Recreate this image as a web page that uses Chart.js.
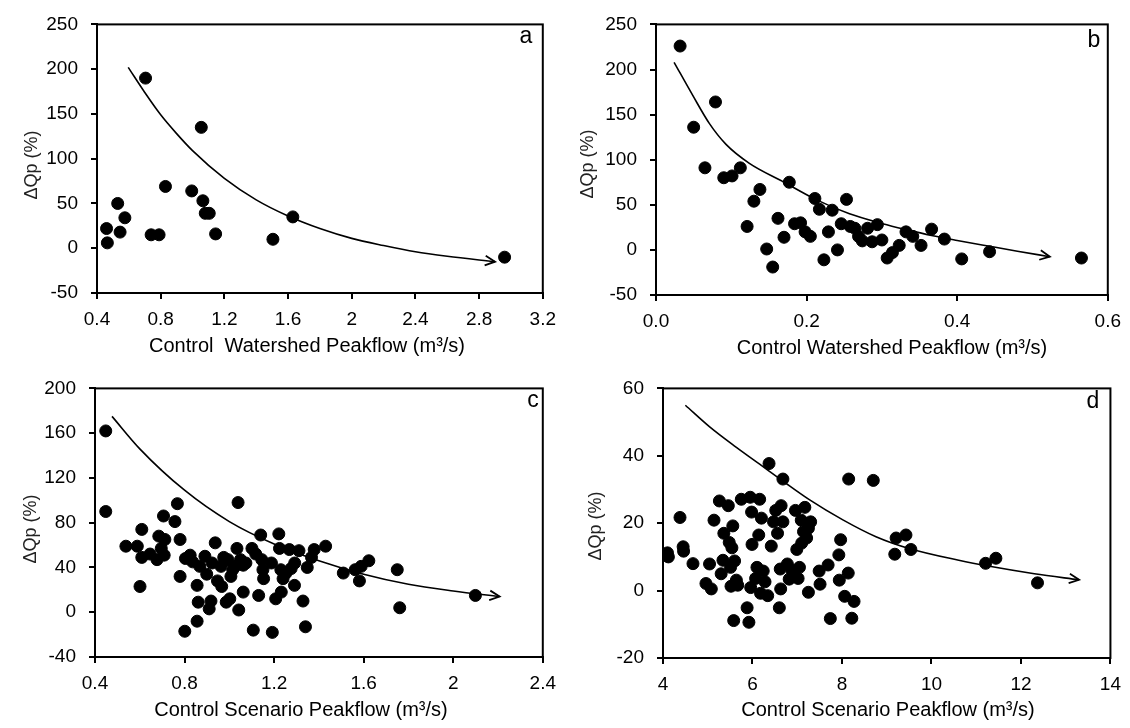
<!DOCTYPE html>
<html lang="en">
<head>
  <meta charset="UTF-8" />
  <title>Peakflow change vs control peakflow</title>
  <script src="https://cdn.jsdelivr.net/npm/chart.js"></script>
  <style>
    body {
      margin: 0;
      background: #fff;
    }

    #wrap {
      position: relative;
      width: 1130px;
      height: 728px;
      overflow: hidden;
      background: #fff;
    }

    canvas {
      position: absolute;
    }
  </style>
</head>
<body>

  <div id="wrap">
    <canvas id="chartA" width="565" height="372" style="left:0;top:0"></canvas>
    <canvas id="chartB" width="565" height="372" style="left:565px;top:0"></canvas>
    <canvas id="chartC" width="565" height="364" style="left:0;top:364px"></canvas>
    <canvas id="chartD" width="565" height="364" style="left:565px;top:364px"></canvas>
  </div>

  <script>
    const FONT = '"Liberation Sans", Arial, Helvetica, sans-serif';

    // panel a - control watershed
    const aPeak = [0.46, 0.465, 0.53, 0.545, 0.575, 0.705, 0.74, 0.79, 0.83, 0.995, 1.055, 1.065, 1.08, 1.105, 1.145, 1.505, 1.63, 2.96];
    const aDelta = [22, 6, 50, 18, 34, 190, 15, 15, 69, 64, 135, 53, 39, 39, 16, 10, 35, -10];
    const aCurvePeak = [0.596, 0.7, 0.8, 0.9, 1.0, 1.2, 1.4, 1.6, 1.8, 2.0, 2.2, 2.4, 2.6, 2.9];
    const aCurveDelta = [202, 174, 149, 128, 109, 78, 54, 36, 22, 11, 3, -4, -9, -15];
    const aXTicks = [0.4, 0.8, 1.2, 1.6, 2, 2.4, 2.8, 3.2];
    const aYTicks = [-50, 0, 50, 100, 150, 200, 250];

    // panel b - control watershed
    const bPeak = [0.032, 0.050, 0.065, 0.079, 0.090, 0.101, 0.112, 0.121, 0.130, 0.138,
                   0.147, 0.155, 0.162, 0.170, 0.177, 0.184, 0.192, 0.198, 0.205, 0.211,
                   0.217, 0.223, 0.229, 0.234, 0.241, 0.246, 0.253, 0.258, 0.264, 0.269,
                   0.274, 0.281, 0.287, 0.294, 0.300, 0.307, 0.314, 0.323, 0.332, 0.341,
                   0.352, 0.366, 0.383, 0.406, 0.443, 0.565];
    const bDelta = [226, 136, 91, 164, 80, 82, 91, 26, 54, 67,
                    1, -19, 35, 14, 75, 29, 30, 20, 15, 57,
                    45, -11, 20, 44, 0, 29, 56, 26, 24, 15,
                    10, 24, 9, 28, 11, -9, -3, 5, 20, 15,
                    5, 23, 12, -10, -2, -9];
    const bCurvePeak = [0.024, 0.049, 0.071, 0.093, 0.124, 0.168, 0.212, 0.257, 0.301, 0.332, 0.366, 0.4, 0.443, 0.48, 0.523];
    const bCurveDelta = [208, 171, 140, 117, 96, 76, 56, 40, 29, 22.5, 16, 10.5, 4, -1.5, -7.5];
    const bXTicks = [0.0, 0.2, 0.4, 0.6];
    const bYTicks = [-50, 0, 50, 100, 150, 200, 250];

    // panel c - control scenario
    const cPeak = [0.448, 0.448, 0.538, 0.589, 0.609, 0.601, 0.609, 0.646, 0.677, 0.685,
                   0.706, 0.712, 0.709, 0.696, 0.757, 0.768, 0.780, 0.780, 0.801, 0.804,
                   0.825, 0.836, 0.856, 0.856, 0.861, 0.868, 0.891, 0.899, 0.910, 0.918,
                   0.923, 0.937, 0.947, 0.963, 0.966, 0.975, 0.986, 0.994, 1.002, 1.007,
                   1.015, 1.026, 1.034, 1.039, 1.042, 1.050, 1.062, 1.062, 1.074, 1.101,
                   1.107, 1.118, 1.131, 1.140, 1.145, 1.150, 1.153, 1.188, 1.192, 1.207,
                   1.221, 1.224, 1.230, 1.232, 1.240, 1.253, 1.268, 1.276, 1.291, 1.292,
                   1.311, 1.329, 1.340, 1.348, 1.367, 1.379, 1.430, 1.509, 1.562, 1.581,
                   1.589, 1.623, 1.750, 1.761, 2.099];
    const cDelta = [162, 90, 59, 59, 74, 23, 49, 52, 47, 68,
                    86, 65, 51, 57, 81, 97, 65, 32, -17, 48,
                    51, 45, -8, 24, 9, 41, 50, 34, 3, 10,
                    44, 62, 28, 41, 23, 49, 9, 47, 12, 32,
                    38, 41, 57, 98, 2, 47, 42, 18, 44, 57,
                    -16, 52, 15, 69, 47, 38, 30, 44, -18, 12,
                    70, 57, 38, 18, 30, 35, 56, 39, 24, 44,
                    55, 10, -13, 40, 49, 56, 59, 35, 38, 28,
                    41, 46, 38, 4, 15];
    const cCurvePeak = [0.476, 0.6, 0.8, 1.0, 1.2, 1.4, 1.6, 1.8, 2.0, 2.207];
    const cCurveDelta = [175, 146, 109, 81, 61, 46, 34, 25, 19, 14];
    const cXTicks = [0.4, 0.8, 1.2, 1.6, 2, 2.4];
    const cYTicks = [-40, 0, 40, 80, 120, 160, 200];

    // panel d - control scenario
    const dPeak = [4.10, 4.12, 4.38, 4.45, 4.46, 4.67, 4.96, 5.04, 5.08, 5.14,
                   5.26, 5.30, 5.34, 5.36, 5.46, 5.48, 5.51, 5.52, 5.54, 5.56,
                   5.58, 5.60, 5.64, 5.67, 5.75, 5.88, 5.92, 5.95, 5.96, 5.98,
                   5.99, 6.07, 6.10, 6.14, 6.16, 6.18, 6.20, 6.24, 6.28, 6.34,
                   6.37, 6.42, 6.47, 6.52, 6.56, 6.60, 6.62, 6.63, 6.64, 6.68,
                   6.68, 6.78, 6.82, 6.88, 6.96, 6.99, 7.02, 7.05, 7.09, 7.10,
                   7.14, 7.17, 7.21, 7.25, 7.30, 7.25, 7.49, 7.51, 7.69, 7.74,
                   7.93, 7.97, 7.94, 8.06, 8.14, 8.15, 8.22, 8.27, 8.70, 9.18,
                   9.21, 9.43, 9.54, 11.21, 11.44, 12.37];
    const dDelta = [11.2, 10, 21.7, 13, 11.7, 8, 2.1, 7.9, 0.5, 20.9,
                    26.6, 5, 9, 17, 25.2, 14.3, 6.9, 1.3, 12.7, 19.2,
                    -8.9, 8.8, 3.1, 1.6, 27.1, -5.1, -9.4, 27.7, 0.9, 23.3,
                    13.7, 3.6, 6.9, 16.5, 27.1, -0.8, 21.5, 5.8, 2.6, -1.5,
                    37.7, 13.2, 20.4, 23.8, 17, -5.1, 6.4, 0.5, 25.2, 20.4,
                    33.1, 7.9, 3.4, 6, 23.8, 12.2, 3.6, 6.9, 20.9, 14.1,
                    17.5, 24.7, 15.6, 18.5, 20.4, -0.5, 5.8, 1.9, 7.6, -8.3,
                    10.6, 15.1, 3.1, -1.7, 5.2, 33.1, -8.2, -3.2, 32.7, 10.8,
                    15.6, 16.5, 12.2, 8.1, 9.6, 2.3];
    const dCurvePeak = [4.5, 5.05, 5.64, 6.16, 6.68, 7.27, 8.02, 8.76, 9.5, 10.61, 11.3, 12.3, 13.3];
    const dCurveDelta = [55, 48.5, 42.5, 37.5, 32.5, 27, 21, 16, 12.5, 9, 7.2, 5, 3.2];
    const dXTicks = [4, 6, 8, 10, 12, 14];
    const dYTicks = [-20, 0, 20, 40, 60];

    function toPoints(xs, ys) {
      return xs.map((x, i) => ({ x: x, y: ys[i] }));
    }

    // frame, arrow head, panel letter and axis titles
    function decor(p) {
      return {
        id: 'decor',
        afterDatasetsDraw(chart) {
          const ctx = chart.ctx;
          const pts = chart.getDatasetMeta(1).data;
          const tip = pts[pts.length - 1];
          const prev = pts[pts.length - 2];
          let bx = tip.cp1x, by = tip.cp1y;
          if (bx === undefined || Math.abs(tip.x - bx) < 0.5) { bx = prev.x; by = prev.y; }
          const ang = Math.atan2(tip.y - by, tip.x - bx);
          const len = 11;
          ctx.save();
          ctx.strokeStyle = '#000';
          ctx.lineWidth = 1.8;
          ctx.beginPath();
          ctx.moveTo(tip.x - len * Math.cos(ang - 0.45), tip.y - len * Math.sin(ang - 0.45));
          ctx.lineTo(tip.x, tip.y);
          ctx.lineTo(tip.x - len * Math.cos(ang + 0.45), tip.y - len * Math.sin(ang + 0.45));
          ctx.stroke();
          ctx.restore();
        },
        afterDraw(chart) {
          const ctx = chart.ctx;
          const ca = chart.chartArea;
          ctx.save();
          ctx.strokeStyle = '#000';
          ctx.lineWidth = 2;
          ctx.strokeRect(ca.left, ca.top, ca.right - ca.left, ca.bottom - ca.top);

          ctx.fillStyle = '#000';
          ctx.textAlign = 'center';
          ctx.textBaseline = 'middle';
          ctx.font = '23px ' + FONT;
          ctx.fillText(p.tag, p.tagX, p.tagY);

          ctx.font = '20px ' + FONT;
          ctx.fillText(p.xTitle, p.xTitleX, p.xTitleY);

          ctx.fillStyle = '#222';
          ctx.font = '18px ' + FONT;
          ctx.translate(p.yTitleX, p.yTitleY);
          ctx.rotate(-Math.PI / 2);
          ctx.fillText('ΔQp (%)', 0, 0);
          ctx.restore();
        }
      };
    }

    function axis(ticks, decimals, fitFn) {
      return {
        type: 'linear',
        min: ticks[0],
        max: ticks[ticks.length - 1],
        afterFit: fitFn,
        ticks: {
          stepSize: ticks[1] - ticks[0],
          color: '#000',
          font: { family: FONT, size: 19 },
          maxRotation: 0,
          autoSkip: false,
          callback: v => decimals === null ? String(Math.round(v * 10) / 10) : v.toFixed(decimals)
        },
        grid: {
          display: true,
          drawOnChartArea: false,
          drawTicks: true,
          tickLength: 6,
          color: '#000',
          lineWidth: 2
        },
        border: { display: true, color: '#000', width: 2 },
        title: { display: false }
      };
    }

    function drawPanel(id, p) {
      const xAxis = axis(p.xTicks, p.xDecimals, s => { s.height = p.xH; });
      xAxis.ticks.padding = 9;
      const yAxis = axis(p.yTicks, 0, s => { s.width = p.yW; });
      yAxis.ticks.padding = 13;

      return new Chart(document.getElementById(id), {
        type: 'scatter',
        data: {
          datasets: [
            {
              data: toPoints(p.px, p.py),
              backgroundColor: '#000',
              borderColor: '#000',
              pointRadius: 6,
              pointHoverRadius: 6,
              showLine: false
            },
            {
              data: toPoints(p.cx, p.cy),
              showLine: true,
              borderColor: '#000',
              borderWidth: 1.6,
              pointRadius: 0,
              pointHoverRadius: 0,
              cubicInterpolationMode: 'monotone',
              fill: false
            }
          ]
        },
        options: {
          responsive: false,
          animation: false,
          events: [],
          layout: { padding: { left: 0, top: p.top, right: p.right, bottom: 0 } },
          plugins: { legend: { display: false }, tooltip: { enabled: false } },
          scales: { x: xAxis, y: yAxis }
        },
        plugins: [decor(p)]
      });
    }

    drawPanel('chartA', {
      px: aPeak, py: aDelta, cx: aCurvePeak, cy: aCurveDelta,
      xTicks: aXTicks, yTicks: aYTicks, xDecimals: null,
      top: 17, right: 21, yW: 97, xH: 79,
      tag: 'a', tagX: 526, tagY: 37,
      xTitle: 'Control  Watershed Peakflow (m³/s)', xTitleX: 307, xTitleY: 346,
      yTitleX: 32, yTitleY: 165
    });

    drawPanel('chartB', {
      px: bPeak, py: bDelta, cx: bCurvePeak, cy: bCurveDelta,
      xTicks: bXTicks, yTicks: bYTicks, xDecimals: 1,
      top: 16, right: 22, yW: 91, xH: 77,
      tag: 'b', tagX: 529, tagY: 41,
      xTitle: 'Control Watershed Peakflow (m³/s)', xTitleX: 327, xTitleY: 348,
      yTitleX: 23, yTitleY: 164
    });

    drawPanel('chartC', {
      px: cPeak, py: cDelta, cx: cCurvePeak, cy: cCurveDelta,
      xTicks: cXTicks, yTicks: cYTicks, xDecimals: null,
      top: 16, right: 16, yW: 95, xH: 71,
      tag: 'c', tagX: 533, tagY: 37,
      xTitle: 'Control Scenario Peakflow (m³/s)', xTitleX: 301, xTitleY: 346,
      yTitleX: 31, yTitleY: 165
    });

    drawPanel('chartD', {
      px: dPeak, py: dDelta, cx: dCurvePeak, cy: dCurveDelta,
      xTicks: dXTicks, yTicks: dYTicks, xDecimals: null,
      top: 16, right: 18, yW: 98, xH: 70,
      tag: 'd', tagX: 528, tagY: 38,
      xTitle: 'Control Scenario Peakflow (m³/s)', xTitleX: 323, xTitleY: 346,
      yTitleX: 31, yTitleY: 162
    });
  </script>

</body>
</html>
